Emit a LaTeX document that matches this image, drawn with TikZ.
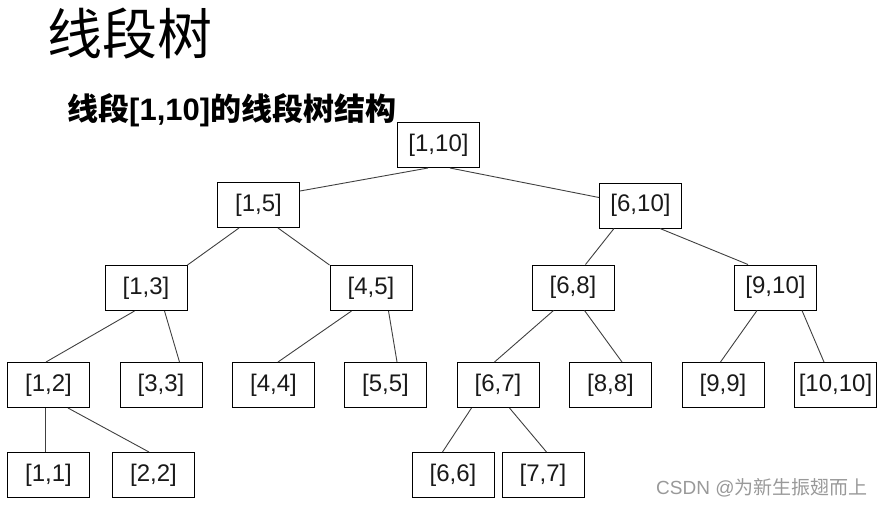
\documentclass[tikz,border=0pt]{standalone}
\usepackage{fontspec}
\setmainfont{Liberation Sans}
\newfontfamily\cjk{Noto Sans CJK SC}
\begin{document}
\begin{tikzpicture}[x=1pt,y=-1pt,
  seg/.style={draw=black,line width=1pt,inner sep=0pt,minimum width=82pt,minimum height=45pt,font=\fontsize{24}{26}\selectfont,text=black!90},
  link/.style={draw=black!75,line width=0.9pt}]
\useasboundingbox (0,0) rectangle (884,507);
\node[anchor=west,inner sep=0pt,font=\cjk\fontsize{55}{58}\selectfont] (title) at (47,34) {线段树};
\node[anchor=west,inner sep=0pt,font=\fontsize{31}{34}\selectfont\bfseries] (sub) at (67,110.5) {{\cjk 线段}[1,10]{\cjk 的线段树结构}};
\node[seg] (n110) at (438.5,145) {[1,10]};
\node[seg] (n15) at (258.5,205) {[1,5]};
\node[seg] (n610) at (640.5,205.5) {[6,10]};
\node[seg] (n13) at (146,288) {[1,3]};
\node[seg] (n45) at (371,288) {[4,5]};
\node[seg] (n68) at (573,287.5) {[6,8]};
\node[seg] (n910) at (775.5,287.5) {[9,10]};
\node[seg] (n12) at (48.5,385) {[1,2]};
\node[seg] (n33) at (161,385) {[3,3]};
\node[seg] (n44) at (273.5,385) {[4,4]};
\node[seg] (n55) at (385.5,385) {[5,5]};
\node[seg] (n67) at (498,385) {[6,7]};
\node[seg] (n88) at (610.5,385) {[8,8]};
\node[seg] (n99) at (723,385) {[9,9]};
\node[seg] (n1010) at (835.5,385) {[10,10]};
\node[seg] (n11) at (48.5,475) {[1,1]};
\node[seg] (n22) at (153.5,475) {[2,2]};
\node[seg] (n66) at (453,475) {[6,6]};
\node[seg] (n77) at (543,475) {[7,7]};
\node[anchor=west,inner sep=0pt,text=black!40,font=\fontsize{19}{22}\selectfont] (wm) at (656,488) {CSDN @{\cjk 为新生振翅而上}};
\draw[link] ([xshift=31pt]n110.south west) -- ([yshift=-9pt]n15.north east);
\draw[link] ([xshift=53pt]n110.south west) -- ([yshift=-15pt]n610.north west);
\draw[link] ([xshift=22pt]n15.south west) -- (n13.north east);
\draw[link] ([xshift=61pt]n15.south west) -- (n45.north west);
\draw[link] ([xshift=30pt]n13.south west) -- ([xshift=39pt]n12.north west);
\draw[link] ([xshift=60pt]n13.south west) -- ([xshift=60pt]n33.north west);
\draw[link] ([xshift=22pt]n45.south west) -- ([xshift=46pt]n44.north west);
\draw[link] ([xshift=59pt]n45.south west) -- ([xshift=53pt]n55.north west);
\draw[link] ([xshift=38pt]n12.south west) -- ([xshift=38pt]n11.north west);
\draw[link] ([xshift=61pt]n12.south west) -- ([xshift=37pt]n22.north west);
\draw[link] ([xshift=15pt]n610.south west) -- ([xshift=54pt]n68.north west);
\draw[link] ([xshift=61pt]n610.south west) -- ([xshift=14pt]n910.north west);
\draw[link] ([xshift=22pt]n68.south west) -- ([xshift=38pt]n67.north west);
\draw[link] ([xshift=53pt]n68.south west) -- ([xshift=53pt]n88.north west);
\draw[link] ([xshift=23pt]n910.south west) -- ([xshift=39pt]n99.north west);
\draw[link] ([xshift=68pt]n910.south west) -- ([xshift=30pt]n1010.north west);
\draw[link] ([xshift=15pt]n67.south west) -- ([xshift=31pt]n66.north west);
\draw[link] ([xshift=53pt]n67.south west) -- ([xshift=45pt]n77.north west);
\end{tikzpicture}
\end{document}
